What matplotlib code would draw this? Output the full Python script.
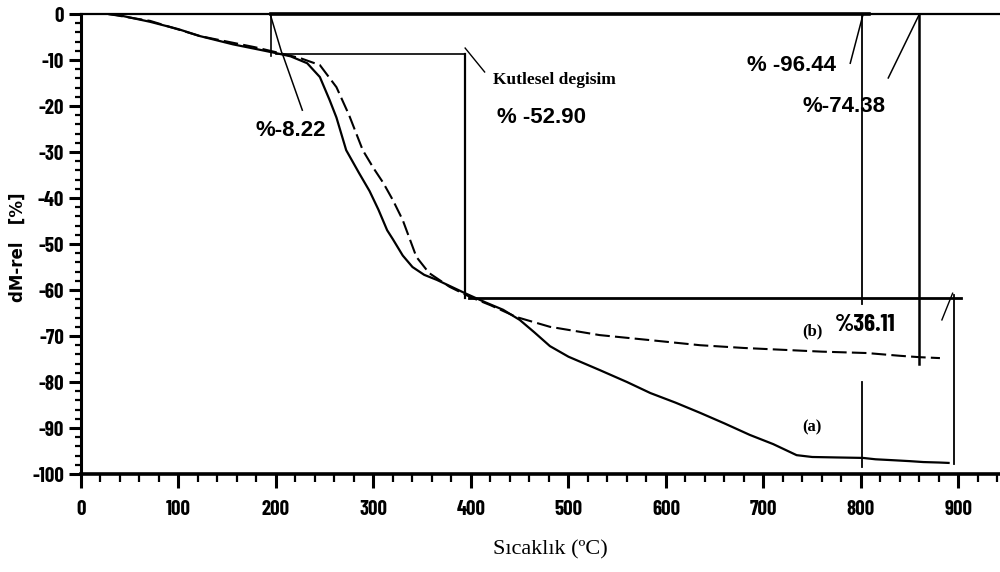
import matplotlib
matplotlib.use("Agg")
import matplotlib.pyplot as plt
from matplotlib.ticker import MultipleLocator

# ---- data ----
temp_a = [28, 40, 71, 100, 122, 156, 184, 200, 215, 232, 245, 255, 262, 272, 285,
          296, 305, 314, 320, 330, 340, 352, 365, 380, 395, 415, 433, 450, 465, 481,
          500, 532, 560, 584, 610, 635, 660, 686, 710, 734, 750, 775, 802, 815, 833,
          850, 864, 880, 891]
mass_a = [0, -0.3, -1.7, -3.3, -4.8, -6.6, -7.8, -8.5, -9.2, -10.7, -13.7, -18.7, -22.5,
          -29.6, -34.5, -38.5, -42.5, -47, -49, -52.5, -55, -56.7, -57.8, -59.3, -60.8,
          -62.7, -64.3, -66.5, -69.2, -72.2, -74.5, -77.4, -80, -82.4, -84.5, -86.7, -89,
          -91.5, -93.5, -95.9, -96.3, -96.4, -96.5, -96.8, -97, -97.2, -97.4, -97.5, -97.6]

temp_b = [28, 71, 122, 178, 200, 225, 245, 262, 275, 289, 300, 310, 320, 330, 344, 357,
          378, 399, 420, 447, 481, 532, 584, 635, 680, 720, 760, 806, 840, 860, 881]
mass_b = [0, -1.5, -4.8, -7.2, -8.3, -9.6, -11.1, -15.9, -22, -29.6, -33.5, -36.7, -40.5,
          -44.8, -52.8, -56.3, -59.3, -61.5, -63.3, -65.9, -68, -69.8, -70.9, -72, -72.6,
          -73, -73.4, -73.7, -74.3, -74.6, -74.8]

x_ticks = [0, 100, 200, 300, 400, 500, 600, 700, 800, 900]
y_ticks = [0, -10, -20, -30, -40, -50, -60, -70, -80, -90, -100]

# evaluation construction levels / temperatures
step1_temp = [195, 394]          # start / end of first step
step1_level = -8.6
step2_level = -61.8
end_temps = [801, 860, 895]
labels_pct = ["%-8.22", "% -52.90", "% -96.44", "%-74.38", "%36.11"]

# ---- figure ----
fig = plt.figure(figsize=(10, 5.72), dpi=100)
ax = fig.add_axes([0.081, 0.1713, 0.919, 0.8042])
ax.set_xlim(0, 942.6)
ax.set_ylim(-100, 0)

ax.plot(temp_a, mass_a, color="black", lw=1.6, solid_capstyle="butt")
ax.plot(temp_b, mass_b, color="black", lw=1.5, dashes=(7, 2.5))

k = dict(color="black", clip_on=False)
# baseline at 0
ax.plot([0, 942.6], [0, 0], lw=1.6, **k)
ax.plot([step1_temp[0], 808], [0, 0], lw=2.6, **k)
# first step construction
ax.plot([step1_temp[0], step1_temp[0]], [0, -9.2], lw=1.2, **k)
ax.plot([step1_temp[0] + 5, step1_temp[1]], [step1_level, step1_level], lw=1.2, **k)
ax.plot([step1_temp[1], step1_temp[1]], [step1_level, step2_level], lw=1.6, **k)
ax.plot([398, 903], [step2_level, step2_level], lw=2.0, **k)
# end verticals
ax.plot([end_temps[0], end_temps[0]], [0, -63], lw=1.3, **k)
ax.plot([end_temps[0], end_temps[0]], [-80, -98.5], lw=1.3, **k)
ax.plot([end_temps[1], end_temps[1]], [0, -76], lw=1.8, **k)
ax.plot([end_temps[2], end_temps[2]], [-61.0, -97.8], lw=1.3, **k)
# leaders
ax.plot([194, 206], [0, -8.5], lw=1.1, **k)
ax.plot([207, 227], [-8.9, -20.9], lw=1.1, **k)
ax.plot([394, 414], [-7.4, -12.6], lw=1.0, **k)
ax.plot([802, 789], [-0.2, -10.7], lw=1.1, **k)
ax.plot([860, 828], [0, -13.9], lw=1.1, **k)
ax.plot([894, 883], [-60.7, -66.5], lw=1.0, **k)

cond = ["Barlow Condensed", "DejaVu Sans"]
bold = dict(fontsize=16, fontweight="bold", family=["Liberation Sans", "DejaVu Sans"])
ax.text(215, -25.4, labels_pct[0], ha="center", va="center", **bold)
ax.text(427, -22.4, labels_pct[1], ha="left", va="center", **bold)
ax.text(683, -11.1, labels_pct[2], ha="left", va="center", **bold)
ax.text(740, -20.0, labels_pct[3], ha="left", va="center", **bold)
ax.text(773, -67.6, labels_pct[4], ha="left", va="center", fontsize=18, fontweight="bold",
        family=cond)
serif = dict(family=["Liberation Serif", "DejaVu Serif"])
ax.text(422.6, -14.3, "Kutlesel degisim", ha="left", va="center", fontsize=12.5,
        fontweight="bold", **serif)
ax.text(750, -69.1, "(b)", ha="center", va="center", fontsize=12, fontweight="bold", **serif)
ax.text(750, -89.8, "(a)", ha="center", va="center", fontsize=12, fontweight="bold", **serif)

# axes styling
for s in ["top", "right"]:
    ax.spines[s].set_visible(False)
ax.spines["left"].set_linewidth(2.2)
ax.spines["bottom"].set_linewidth(2.6)
ax.set_xticks(x_ticks)
ax.set_yticks(y_ticks)
ax.xaxis.set_minor_locator(MultipleLocator(20))
ax.yaxis.set_minor_locator(MultipleLocator(2))
ax.tick_params(axis="x", which="major", length=10, width=2.2, pad=9)
ax.tick_params(axis="x", which="minor", length=5.5, width=1.6)
ax.tick_params(axis="y", which="major", length=9, width=2.2, pad=3)
ax.tick_params(axis="y", which="minor", length=4, width=1.6)
tickfont = dict(family=cond, fontweight="bold", fontsize=15)
ax.set_xticklabels([str(v) for v in x_ticks], **tickfont)
ax.set_yticklabels([str(v) for v in y_ticks], **tickfont)

fig.text(0.018, 0.568, "dM-rel   [%]", rotation=90, ha="center", va="center",
         fontsize=12, fontweight="bold", family=["DejaVu Sans"])
fig.text(0.550, 0.0385, "Sıcaklık (ºC)", ha="center", va="center", fontsize=16, **serif)

fig.savefig("out.png", dpi=100, facecolor="white")
